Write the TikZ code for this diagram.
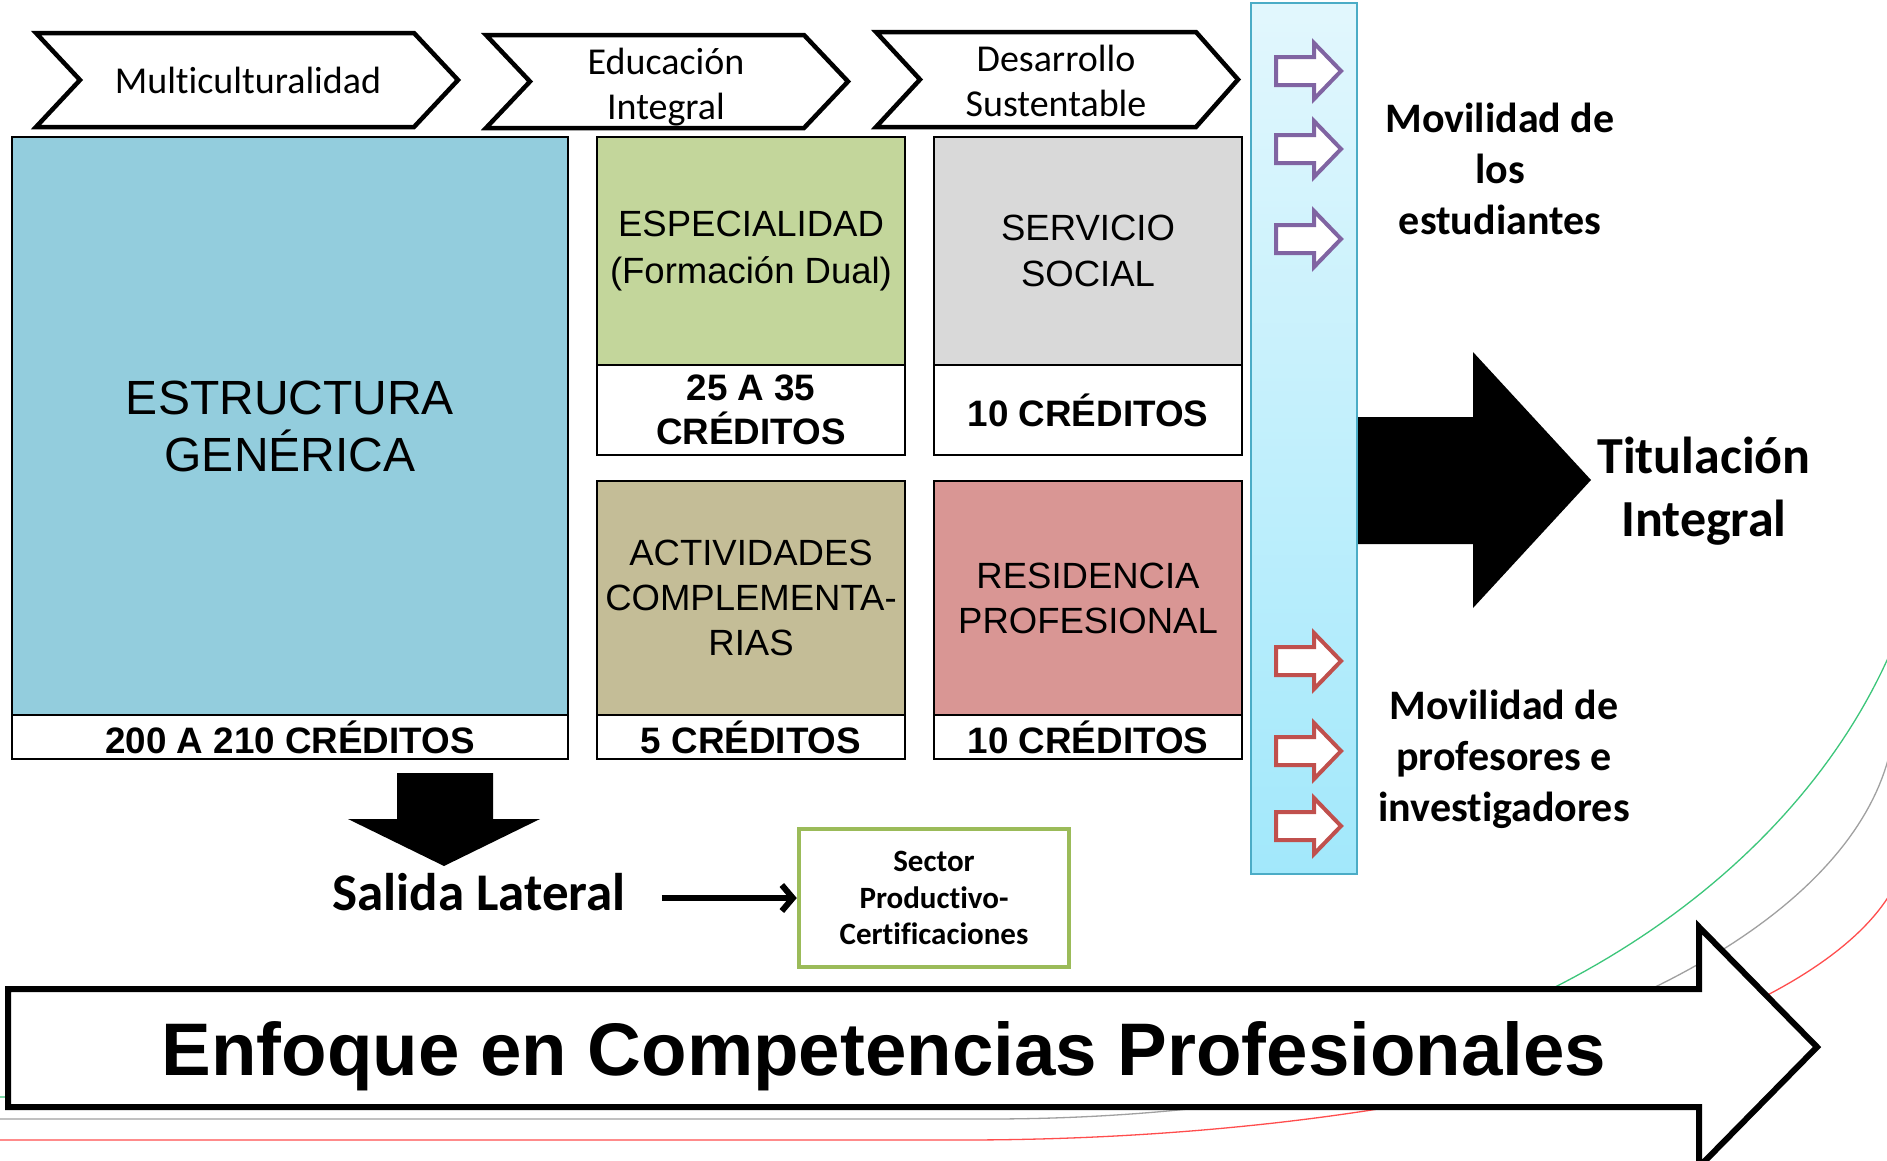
\documentclass[tikz,border=0pt]{standalone}
\usepackage{fontspec}
\setmainfont{Liberation Sans}
\newfontfamily\arial{Liberation Sans}
\newfontfamily\calib[Ligatures=NoCommon]{Carlito}
\usetikzlibrary{arrows.meta}
\definecolor{cBlue}{HTML}{93CDDD}
\definecolor{cGreen}{HTML}{C3D69B}
\definecolor{cGrey}{HTML}{D9D9D9}
\definecolor{cTan}{HTML}{C4BD97}
\definecolor{cRose}{HTML}{D99694}
\definecolor{cPurple}{HTML}{8064A2}
\definecolor{cRed}{HTML}{C0504D}
\definecolor{cGreenEdge}{HTML}{9BBB59}
\definecolor{barTop}{HTML}{E2F7FD}
\definecolor{barBot}{HTML}{A2E8FB}
\definecolor{barEdge}{HTML}{4BACC6}
\definecolor{swGreen}{HTML}{3CC67A}
\definecolor{swGray}{HTML}{A0A0A0}
\definecolor{swRed}{HTML}{FF4D4D}
\begin{document}
\begin{tikzpicture}[x=1pt,y=-1pt,
  cbox/.style={draw=black, line width=2pt, inner sep=0pt, align=center,
    font=\arial\fontsize{36.5}{46.5}\selectfont},
  sbox/.style={cbox, fill=white, font=\arial\bfseries\fontsize{36.8}{44}\selectfont},
  chev/.style={draw=black, fill=white, line width=4.5pt, line join=miter},
  chevtext/.style={inner sep=0pt, align=center, font=\calib\fontsize{38}{44.5}\selectfont},
  sidetext/.style={inner sep=0pt, align=center, font=\calib\bfseries\fontsize{42}{51}\selectfont},
  parrow/.style={draw=cPurple, fill=white, line width=4pt, line join=miter},
  rarrow/.style={draw=cRed, fill=white, line width=4pt, line join=miter},
  swoosh/.style={line width=1.3pt},
  conn/.style={line width=6pt, -{Straight Barb[length=11pt,width=26pt]}}
]
\useasboundingbox (0,0) rectangle (1887,1160);
\clip (0,0) rectangle (1887,1160);
\fill[white] (0,0) rectangle (1887,1160);

% background swooshes
\draw[swoosh, swGreen] (-5,1097) -- (1080,1097) -- plot[domain=0:85,samples=90] ({1080+855*sin(\x)},{445+652*cos(\x)});
\draw[swoosh, swGray] (-5,1119) -- (990,1119) -- plot[domain=0:85,samples=90] ({990+905*sin(\x)},{709+410*cos(\x)});
\draw[swoosh, swRed] (-5,1140) -- (963,1140) -- plot[domain=0:85,samples=90] ({963+945*sin(\x)},{835+305*cos(\x)});

% chevrons
\draw[chev] (36,33) -- (414,33) -- (458,80) -- (414,127) -- (36,127) -- (80,80) -- cycle;
\draw[chev] (486,35) -- (804,35) -- (848,81.5) -- (804,128) -- (486,128) -- (530,81.5) -- cycle;
\draw[chev] (876,32) -- (1196,32) -- (1238,79.5) -- (1196,127) -- (876,127) -- (920,79.5) -- cycle;
\node[chevtext, anchor=base] (multi) at (248,93) {Multiculturalidad};
\node[chevtext] (educ) at (666,87) {Educación\\Integral};
\node[chevtext] (desa) at (1056,81) {Desarrollo\\Sustentable};

% boxes
\node[cbox, fill=cBlue, minimum width=556pt, minimum height=578pt,
  font=\arial\fontsize{48}{57}\selectfont] (estr) at (290,426) {ESTRUCTURA\\GENÉRICA};
\node[sbox, minimum width=556pt, minimum height=44pt] (estrc) at (290,737) {200 A 210 CRÉDITOS};

\node[cbox, fill=cGreen, minimum width=308pt, minimum height=228pt] (esp) at (751,251) {ESPECIALIDAD\\(Formación Dual)};
\node[sbox, minimum width=308pt, minimum height=90pt] (espc) at (751,410) {25 A 35\\CRÉDITOS};

\node[cbox, fill=cGrey, minimum width=308pt, minimum height=228pt] (serv) at (1088,251) {SERVICIO\\SOCIAL};
\node[sbox, minimum width=308pt, minimum height=90pt] (servc) at (1088,410) {10 CRÉDITOS};

\node[cbox, fill=cTan, minimum width=308pt, minimum height=234pt, font=\arial\fontsize{36.5}{45}\selectfont] (act) at (751,598) {ACTIVIDADES\\COMPLEMENTA-\\RIAS};
\node[sbox, minimum width=308pt, minimum height=44pt] (actc) at (751,737) {5 CRÉDITOS};

\node[cbox, fill=cRose, minimum width=308pt, minimum height=234pt, font=\arial\fontsize{36.5}{45}\selectfont] (res) at (1088,598) {RESIDENCIA\\PROFESIONAL};
\node[sbox, minimum width=308pt, minimum height=44pt] (resc) at (1088,737) {10 CRÉDITOS};

% vertical bar
\node[draw=barEdge, line width=2pt, top color=barTop, bottom color=barBot,
  minimum width=106pt, minimum height=871pt, inner sep=0pt] (bar) at (1304,438.5) {};

% small arrows
\foreach \c in {71,149,239}
  \draw[parrow] (1276,\c-14) -- (1314,\c-14) -- (1314,\c-28) -- (1341,\c) -- (1314,\c+28) -- (1314,\c+14) -- (1276,\c+14) -- cycle;
\foreach \c in {661,751,826}
  \draw[rarrow] (1276,\c-14) -- (1314,\c-14) -- (1314,\c-28) -- (1341,\c) -- (1314,\c+28) -- (1314,\c+14) -- (1276,\c+14) -- cycle;

\node[sidetext] (movest) at (1500,169) {Movilidad de\\los\\estudiantes};
\node[sidetext] (movprof) at (1504,759) {Movilidad de\\profesores e\\investigadores};

% titulacion arrow
\fill[black] (bar.east |- 0,417) -- (1473,417) -- (1473,352) -- (1591,480) -- (1473,608) -- (1473,544) -- (bar.east |- 0,544) -- cycle;
\node[inner sep=0pt, align=center, font=\calib\bfseries\fontsize{52}{63}\selectfont] (titul) at (1704,491) {Titulación\\Integral};

% salida lateral
\fill[black] (397,773) -- (493,773) -- (493,819) -- (540,819) -- (444,866) -- (348,819) -- (397,819) -- cycle;
\node[inner sep=0pt, anchor=base, font=\calib\bfseries\fontsize{53}{60}\selectfont] (salida) at (479,910) {Salida Lateral};
\node[draw=cGreenEdge, line width=4.5pt, minimum width=270pt, minimum height=138pt, align=center,
  inner sep=0pt, font=\calib\bfseries\fontsize{31}{36.5}\selectfont] (sector) at (934,898) {Sector\\Productivo-\\Certificaciones};
\coordinate (cstart) at ([xshift=36pt]salida.east);
\draw[conn] (cstart |- sector.west) -- (sector.west);

% big arrow
\draw[line width=6pt, fill=white, line join=miter] (8,989) -- (1699,989) -- (1699,927) -- (1817,1047) -- (1699,1167) -- (1699,1107) -- (8,1107) -- cycle;
\node[inner sep=0pt, anchor=base, font=\arial\bfseries\fontsize{74.5}{80}\selectfont] (enfoque) at (884,1075) {Enfoque en Competencias Profesionales};
\end{tikzpicture}
\end{document}
